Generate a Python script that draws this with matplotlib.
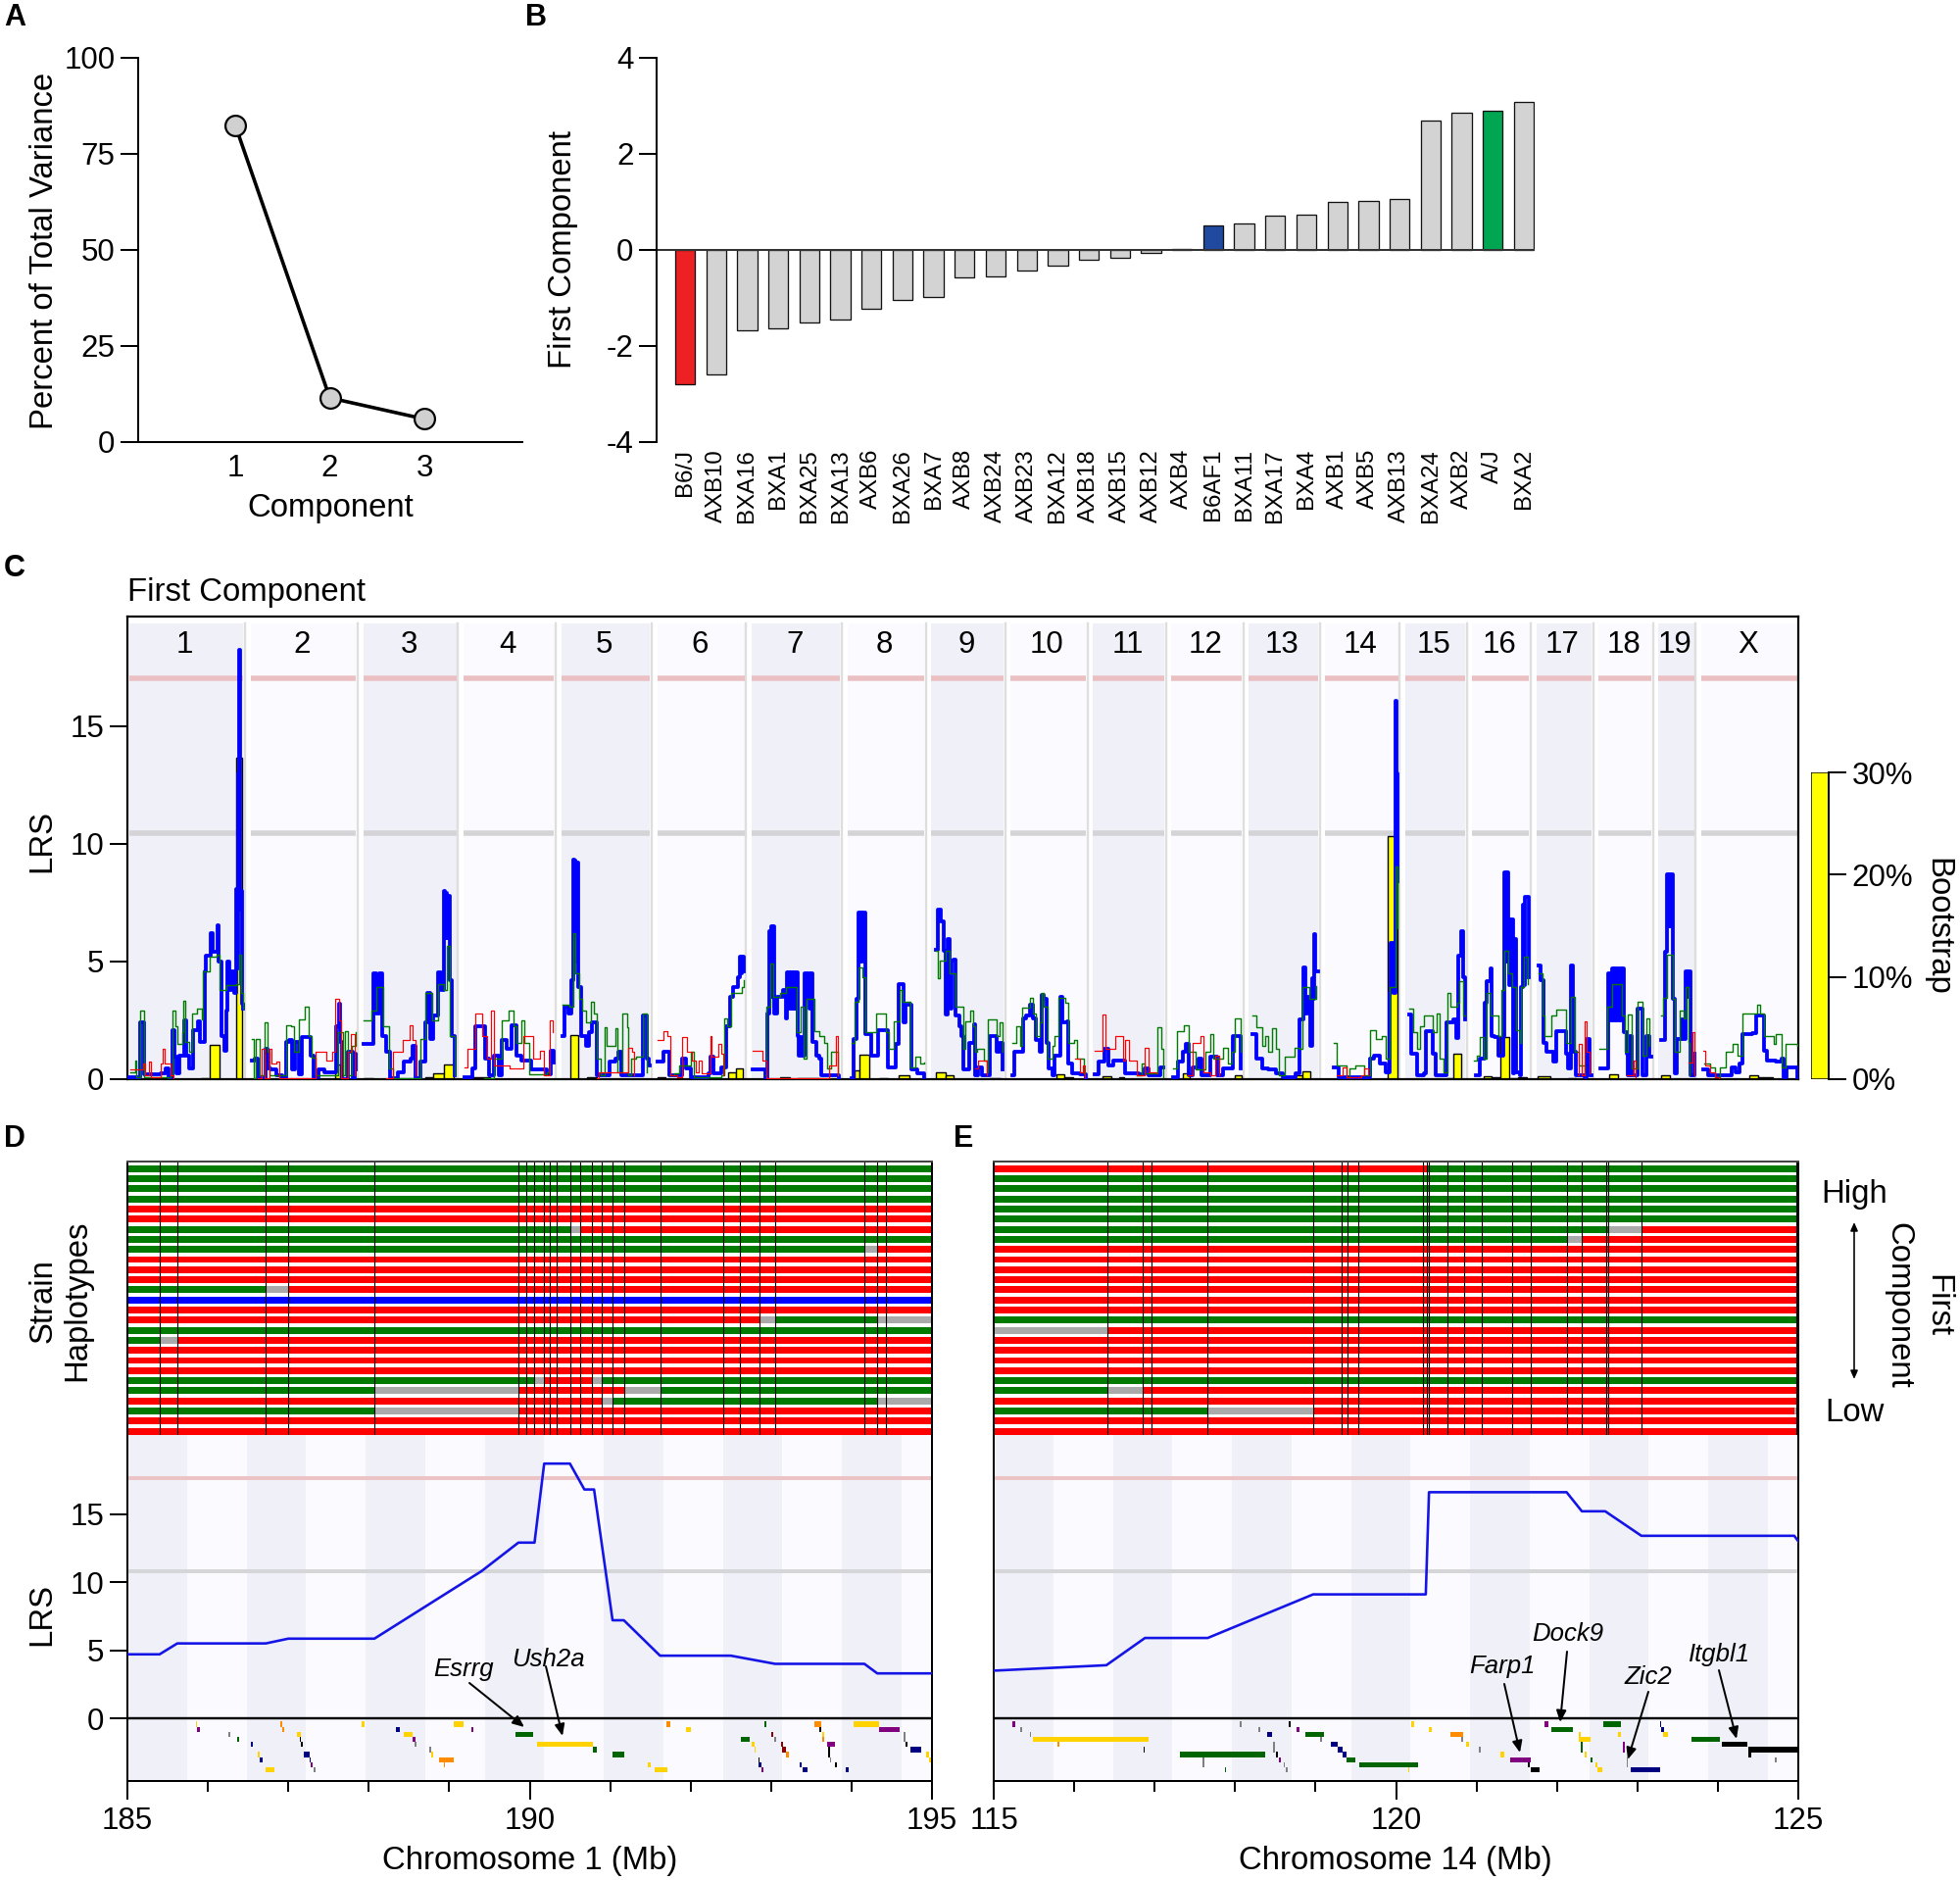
import matplotlib
matplotlib.use("Agg")
import matplotlib.pyplot as plt
import numpy as np

plt.rcParams['font.family'] = ['Liberation Sans', 'DejaVu Sans']
plt.rcParams['axes.unicode_minus'] = False

W, H = 2000, 1918
PX = 72 / 100  # one pixel in points at dpi 100

# panel A
components = [1, 2, 3]
variance = [82.5, 11.5, 6.0]

# panel B
strains = ['B6/J', 'AXB10', 'BXA16', 'BXA1', 'BXA25', 'BXA13', 'AXB6', 'BXA26', 'BXA7', 'AXB8',
           'AXB24', 'AXB23', 'BXA12', 'AXB18', 'AXB15', 'AXB12', 'AXB4', 'B6AF1', 'BXA11', 'BXA17',
           'BXA4', 'AXB1', 'AXB5', 'AXB13', 'BXA24', 'AXB2', 'A/J', 'BXA2']
first_comp = [-2.8, -2.6, -1.67, -1.63, -1.5, -1.45, -1.22, -1.05, -0.98, -0.58,
              -0.55, -0.42, -0.33, -0.2, -0.17, -0.07, 0.02, 0.52, 0.55, 0.72,
              0.74, 1.0, 1.03, 1.07, 2.7, 2.85, 2.9, 3.08]
strain_colors = {'B6/J': '#ed2024', 'B6AF1': '#1f4aa0', 'A/J': '#00a651'}

# panel C, chromosome names and lengths (Mb)
chr_names = ['1', '2', '3', '4', '5', '6', '7', '8', '9', '10', '11', '12', '13', '14', '15', '16', '17', '18', '19', 'X']
chr_len = [197, 182, 160, 156, 153, 150, 153, 132, 124, 130, 122, 121, 120, 125, 103, 98, 95, 91, 61, 166]
lrs_sig = 17.04
lrs_sug = 10.46

# (Mb, LRS) step points read per chromosome
blue_1 = [(0, .1), (10, .1), (19, 2.4), (26, .2), (55, .25), (63, .45), (69, .1), (75, 2.1), (78, .95), (82, .25), (86, 1.0), (95, 2.5), (99, 1.0), (103, .45), (110, 2.1), (118, 2.45), (122, 1.6), (130, 4.6), (133, 5.25), (141, 6.2), (144, 5.4), (152, 6.55), (155, 5.0), (159, 1.85), (165, 1.2), (168, 2.9), (170, 5.0), (173, 3.8), (177, 4.6), (181, 3.65), (185, 8.1), (186.5, 4.7), (187.5, 13), (189, 18.25), (191, 7.2), (192.5, 8), (194, 4.2), (195, 3.2), (196.9, 3.0)]
green_1 = [(2, .3), (10, .8), (13, .1), (20, 2.9), (26, .1), (72, .15), (75, 2.9), (80, 2.25), (83, 1.5), (92, 2.0), (93, 3.35), (97, 1.6), (103, 1.15), (108, 2.8), (117, 3.0), (125, 2.55), (128, 4.6), (139, 5.2), (151, 5.3), (156, 3.8), (168, 4.0), (184, 4.05), (189, 5.3), (193, 3.65), (196, 3.0)]
red_1 = [(2, .4), (16, .4), (24, .65), (28, .15), (35, .75), (38, .1), (52, .1), (55, .65), (58, 1.3), (61, .65), (69, .65), (72, .15), (76, .05)]

blue_2 = [(2, .8), (7, .87), (13, .04), (26, 1.3), (30, .45), (35, .4), (44, .18), (54, .05), (61, 1.6), (66, 1.65), (72, .4), (77, 1.6), (83, .2), (88, 1.8), (99, 1.8), (103, 1.0), (109, .1), (117, .4), (128, .3), (146, .3), (148, 2.25), (152, 3.2), (155, 1.6), (157, 0), (168, 1.15), (176, .05), (179, 1.1), (182, .4)]
green_2 = [(2, 1.7), (6, .05), (9, 1.7), (16, .15), (24, 2.4), (29, 1.15), (33, .15), (55, .15), (62, 2.3), (69, 2.25), (75, 1.15), (83, 2.55), (93, 3.1), (100, 1.85), (106, .9), (112, .15), (146, .15), (151, 2.0), (159, .15), (163, 2.05), (168, .15), (174, 1.4), (181, 2.0)]
red_2 = [(13, .05), (19, 1.3), (24, .05), (33, 1.3), (36, .65), (44, .75), (50, .05), (109, .05), (112, 1.15), (131, .8), (140, 1.15), (145, 3.4), (153, 2.5), (156, .05), (168, 1.15), (173, 1.9), (179, .15)]

blue_3 = [(0, 1.5), (14, 1.5), (17, 4.5), (22, 2.8), (28, 4.5), (33, 1.85), (39, 1.15), (46, .05), (59, .3), (70, .75), (82, .87), (84, 1.4), (90, .05), (98, .75), (107, 2.4), (110, 3.65), (115, 1.7), (121, 2.7), (129, 4.55), (134, 3.8), (139.5, 8.0), (141, 6), (142.5, 7.9), (144, 6), (146, 7.8), (149, 4.2), (152, 1.85), (158, .15)]
green_3 = [(0, 2.5), (14, 2.9), (22, 3.9), (34, 2.25), (45, .45), (51, .05), (90, .05), (98, 1.7), (107, 3.65), (118, 2.5), (129, 4.05), (138, 3.8), (143, 5.65), (149, 1.85), (158, .15)]
red_3 = [(39, .05), (51, 1.15), (68, 1.65), (79, 2.3), (84, 1.65), (90, .15)]

blue_4 = [(2, .1), (16, .45), (20, 2.25), (33, 2.25), (38, .87), (44, .15), (52, 1.0), (61, .15), (66, 1.65), (75, 1.3), (83, 2.3), (92, 1.0), (100, .8), (109, .8), (117, .4), (132, .4), (143, .2), (151, 1.2), (156, .7)]
green_4 = [(35, .05), (52, .87), (66, 2.5), (78, 2.9), (86, 2.25), (92, 1.55), (100, 2.5), (104, 1.55), (114, .2), (143, .3), (148, .7)]
red_4 = [(2, .5), (7, 1.3), (21, 2.8), (30, 2.8), (33, 1.85), (41, .87), (47, 2.9), (52, .6), (80, .45), (103, 1.85), (114, 1.85), (120, .87), (132, 1.2), (139, .15), (148, 2.5), (154, 2.0)]

blue_5 = [(2, 1.85), (6, 3.1), (12, 2.8), (17, 4.2), (20, 9.35), (22, 5), (23.5, 9.3), (25, 5), (26.5, 9.2), (28, 9.2), (29, 3.9), (34, 1.85), (42, 1.4), (48, 2.0), (53, 2.4), (62, .15), (84, .75), (93, .87), (98, 1.15), (104, .15), (132, .15), (141, 2.7), (147, .87), (150, .6), (153, .6)]
green_5 = [(2, 3.15), (8, 3.15), (14, 3.1), (20, 6.2), (25, 4.5), (31, 3.4), (36, 2.9), (42, 2.4), (51, 3.3), (56, 2.8), (62, .87), (68, .15), (74, 2.2), (79, 1.4), (93, 2.15), (97, .3), (106, 2.8), (114, 2.2), (115, .15), (121, .87), (129, .95), (141, 2.8), (147, 2.65), (148, .3)]
red_5 = [(62, .05), (65, .3), (115, 1.35), (122, 1.15), (125, .15)]

blue_6 = [(0, .75), (11, .75), (11.5, 1.15), (18, 1.15), (21, .15), (35, .15), (42, .87), (49, .45), (58, .1), (88, .25), (91, .95), (97, .25), (111, .5), (119, 2.25), (125, 3.5), (130, 3.9), (139, 4.35), (142, 5.2), (144, 4.5), (146, 5.2), (148, 5.2), (149.5, 4.6)]
green_6 = [(21, .15), (29, .25), (38, .6), (58, 1.15), (63, .1), (111, .15), (115, 2.6), (121, 2.25), (128, 3.65), (145, 3.9), (149, 4.2)]
red_6 = [(0, 1.65), (10, 2.05), (18, 1.85), (22, .15), (35, .1), (43, 1.8), (52, 1.15), (60, .8), (66, .3), (71, .8), (77, .25), (88, .25), (91, 1.85), (94, .95), (105, 1.5), (111, 1.1), (114, .15)]

blue_7 = [(2, .4), (22, .4), (24, 0), (27, 2.8), (30, 6.3), (32, 3.5), (34, 6.5), (36, 3.5), (38, 6.5), (39, 2.8), (44, 3.5), (55, 3.8), (60, 2.6), (61, 4.55), (63, 3), (65, 4.55), (67, 3), (69, 4.55), (71, 3), (73, 4.55), (75, 3), (78, 4.55), (79, 1.85), (82, 1.0), (85, 1.8), (88, 1.0), (90, 1.0), (91, 4.5), (93, 3.4), (97, 4.5), (100, 3), (103, 4.5), (105, 1.6), (111, 1.0), (117, .87), (120, .15), (135, .15), (150, .05)]
green_7 = [(24, .15), (26, 3.1), (33, 4.9), (37, 3.5), (49, 3.65), (60, 3.9), (72, 3.9), (78, 2.0), (84, 3.1), (89, .87), (95, 3.4), (103, 3.4), (108, 2.05), (117, 1.85), (126, 1.55), (131, .45), (137, 1.15), (148, .15)]
red_7 = [(2, 1.2), (16, 1.2), (19, .8), (24, .8), (26, .05), (117, .05), (133, .6), (145, 1.85), (148, .15)]

blue_8 = [(7, .05), (10, 1.7), (16, 3.4), (19, 7.1), (21, 5), (22.5, 7.1), (24, 5), (26, 7.1), (30, 4.9), (31, 1.9), (41, 1.0), (50, 1.0), (52, 2.1), (66, 2.1), (69, .5), (78, .5), (83, 1.5), (88, 4.05), (93, 4.05), (96, 2.4), (100, 3.15), (109, 3.15), (109.5, .4), (120, .25), (132, .1)]
green_8 = [(7, 1.55), (13, 3.3), (19, 4.75), (26, 4.35), (31, 2.0), (47, 2.0), (50, 2.8), (64, 2.8), (66, 2.0), (72, 1.3), (80, 2.45), (89, 3.8), (95, 3.3), (106, 3.3), (109, .5), (117, .95), (125, .65), (132, .7)]

blue_9 = [(8, 5.5), (12, 7.2), (17, 6.7), (22, 5.45), (25, 2.75), (28, 5.95), (31, 5.05), (33, 3), (35, 5.05), (39, 5.1), (42, 2.7), (48, 2.25), (52, 1.85), (55, .4), (62, .4), (65, 1.55), (73, 2.35), (76, .15), (81, .5), (87, .15), (101, 1.85), (110, 1.85), (113, 1.15), (118, 1.55), (123.5, .4)]
green_9 = [(8, 5.45), (11, 4.3), (14, 5.05), (25, 5.45), (31, 4.5), (42, 3.1), (48, 3.1), (56, 1.3), (59, 2.45), (67, 2.9), (72, 2.25), (76, 1.15), (79, 1.3), (90, .8), (95, .3), (98, 2.55), (107, 2.55), (112, 1.85), (118, 2.4), (123.5, 1.15)]
red_9 = [(76, .45), (81, .8), (92, .8), (95, .15)]

blue_10 = [(3, .15), (7, 1.15), (20, 1.15), (21, 2.6), (27, 2.7), (33, 3.15), (38, 2.6), (44, 1.65), (50, 1.15), (54, 3.6), (58, 3.4), (62, 1.55), (66, .45), (72, .15), (76, 1.0), (83, 1.0), (86, 3.5), (90, 2.4), (97, 2.45), (100, .65), (106, .25), (120, .2), (130, .05)]
green_10 = [(3, 1.55), (10, 2.25), (16, 1.4), (20, 3.05), (27, 3.05), (33, 3.45), (38, 2.8), (44, 1.85), (50, 2.4), (54, 3.65), (58, 3.1), (64, .87), (72, 1.4), (76, 1.85), (83, 3.45), (94, 3.25), (100, 1.55), (109, 1.65), (115, .87), (126, .25)]
red_10 = [(111, .87), (120, .3), (125, .6), (128, .1)]

blue_11 = [(2, .2), (10, .75), (16, .75), (20, 1.3), (27, .6), (35, .8), (49, .8), (55, .25), (78, .2), (89, .45), (95, .15), (111, .15), (115, .5), (120, .5)]
green_11 = [(75, .15), (83, .65), (89, .25), (109, .25), (111, 2.2), (117, 1.3), (120, .1)]
red_11 = [(2, 1.2), (10, 1.2), (16, 2.75), (21, 1.3), (33, 1.3), (38, 1.85), (47, 1.85), (52, .8), (55, 1.65), (61, .8), (69, .8), (75, .15), (89, 1.35), (95, .3), (109, .25)]

blue_12 = [(3, .1), (11, .75), (20, 1.15), (25, 1.5), (30, .15), (37, .5), (48, .87), (53, .15), (68, .95), (76, .95), (79, .15), (90, .45), (101, .45), (107, 1.85), (118, 1.85), (120, .45)]
green_12 = [(3, .45), (10, 2.05), (22, 2.3), (31, 1.15), (42, .4), (59, 1.15), (68, 1.9), (73, .87), (82, .87), (90, 1.35), (98, .65), (104, 1.15), (109, 2.6), (115, 2.6), (120, 1.15)]
red_12 = [(28, .15), (37, 1.55), (51, 1.85), (55, .3), (68, .15), (76, 1.0), (82, .15)]

blue_13 = [(6, 1.9), (14, .87), (23, .45), (34, .4), (48, .25), (59, .1), (81, .25), (88, 2.55), (94, 4.75), (97, 2.8), (102, 3.5), (107, 1.4), (109, 4.3), (111, 3.4), (113, 6.15), (115, 4.6), (120, 4.6)]
green_13 = [(6, 2.7), (13, 2.2), (23, 1.4), (28, 1.85), (34, 1.15), (41, 2.15), (47, 1.3), (53, .15), (62, .95), (79, 1.35), (87, 1.3), (92, 3.9), (104, 3.4), (116, 3.95)]

blue_14 = [(14, .5), (22, .1), (54, .1), (76, .87), (84, 1.0), (93, .65), (104, .3), (110, 3.65), (112, 5.8), (118, 3.65), (120.4, 16.1), (122.5, 16.1), (123.2, 13), (124.2, 8.4)]
green_14 = [(14, 1.55), (19, .6), (37, .1), (42, .45), (51, .6), (62, .6), (67, .15), (77, 2.1), (87, 1.7), (97, 1.85), (104, .87), (110, 3.9), (121, 9.05), (124, 6.4)]
red_14 = [(20, .15), (30, .5), (37, .1), (62, .15), (67, .45), (73, .15)]

blue_15 = [(7, 2.75), (11, 1.1), (20, .15), (33, .25), (35, 2.05), (43, 2.05), (47, 1.1), (52, .15), (71, 2.4), (83, 2.55), (88, 1.75), (92, 5.25), (96, 6.3), (99, 4.35), (103, 2.55)]
green_15 = [(7, 3.0), (13, 2.0), (21, 1.3), (25, 2.25), (33, 2.7), (40, 2.7), (47, 2.0), (55, 2.8), (60, .87), (66, .3), (73, 3.65), (78, 3.1), (89, 3.25), (93, 4.15), (99, 2.7), (103, 2.7)]

blue_16 = [(6, .15), (14, .87), (21, 3.25), (25, 4.15), (31, 4.7), (33, 1.85), (39, 1.8), (45, 1.0), (54, 1.85), (56, 8.8), (58, 5), (60, 8.8), (62, 6.8), (64, 4), (66, 6.8), (69, 6.8), (71, .25), (73, 5.95), (76, .3), (82, .15), (84, 3.9), (87, 7.4), (89, 4), (91, 7.75), (93, 7.75), (97, 4.35)]
green_16 = [(3, .8), (8, 1.0), (14, 1.8), (20, .87), (25, 3.65), (31, 2.7), (39, 2.7), (45, 1.85), (51, 3.8), (56, 5.45), (62, 4.5), (69, 3.9), (76, 2.1), (82, 1.55), (84, 3.9), (89, 5.2), (96, 4.05)]

blue_17 = [(4, 4.85), (8, 4.2), (12, 1.55), (18, 1.15), (26, 1.15), (29, .75), (35, 2.05), (46, 2.05), (52, 1.1), (55, .45), (60, 4.85), (63, 1.15), (69, .15), (83, .1), (87, 1.7), (91, .15), (95, .15)]
green_17 = [(4, 4.5), (11, 2.7), (15, 1.85), (26, 2.7), (35, 2.95), (43, 2.95), (52, 1.55), (59, 3.5), (66, 1.15), (74, .6), (83, .15)]
red_17 = [(71, .15), (74, 1.5), (78, .15), (83, 2.45), (87, 1.15), (91, .25)]

blue_18 = [(3, .45), (15, .45), (17, 4.5), (20, 2.5), (23, 4.7), (26, 2.5), (29, 4.7), (32, 2.5), (35, 4.7), (38, 2.5), (41, 4.7), (43, 4.7), (44, 2.0), (48, 1.1), (50, .15), (54, 1.85), (57, .15), (63, .15), (68, 3.0), (74, 3.0), (76, .15), (82, 1.85), (88, .95), (91, .95)]
green_18 = [(2, 1.3), (12, 1.3), (15, 3.1), (23, 4.05), (34, 4.05), (40, 2.7), (46, 1.15), (51, 2.75), (57, .45), (68, 3.3), (74, 3.3), (76, 1.0), (82, 2.6), (88, 1.4)]
red_18 = [(48, .15), (60, .8), (63, .1)]

blue_19 = [(4, 1.65), (11, 5.4), (14, 8.7), (16, 6.5), (18, 8.7), (20, 6.5), (23, 8.7), (25, 3.4), (28, .25), (31, 1.7), (39, 2.55), (43, 1.7), (47, 4.6), (49, 3.5), (52, 4.6), (55, .15), (61, 1.1)]
green_19 = [(4, 2.7), (8, 3.45), (14, 5.3), (20, 5.3), (24, 3.4), (28, 1.15), (36, 2.9), (43, 2.6), (47, 3.9), (51, 1.55), (54, .15)]
red_19 = [(51, .7), (59, 2.0), (61, .15)]

blue_X = [(4, .4), (12, .15), (46, .15), (52, .5), (60, .3), (66, .65), (71, 1.9), (88, 1.95), (94, 2.7), (102, 2.7), (109, 1.2), (113, .8), (128, .75), (139, .87), (142, .1), (147, .5), (158, .5), (166, .1)]
green_X = [(6, .65), (15, .5), (24, .1), (32, .5), (43, 1.15), (55, 1.5), (63, 1.0), (71, 2.8), (91, 2.8), (96, 3.15), (102, 2.8), (109, 1.85), (125, 1.5), (128, 1.9), (136, 1.9), (139, .5), (145, 1.5), (159, 1.5), (166, 1.4)]
red_X = [(4, 1.2), (7, .6), (15, .3), (24, .1), (30, .05)]

blue_tracks = [blue_1, blue_2, blue_3, blue_4, blue_5, blue_6, blue_7, blue_8, blue_9, blue_10,
               blue_11, blue_12, blue_13, blue_14, blue_15, blue_16, blue_17, blue_18, blue_19, blue_X]
green_tracks = [green_1, green_2, green_3, green_4, green_5, green_6, green_7, green_8, green_9, green_10,
                green_11, green_12, green_13, green_14, green_15, green_16, green_17, green_18, green_19, green_X]
red_tracks = {0: red_1, 1: red_2, 2: red_3, 3: red_4, 4: red_5, 5: red_6, 6: red_7, 8: red_9, 9: red_10,
              10: red_11, 11: red_12, 13: red_14, 16: red_17, 17: red_18, 18: red_19, 19: red_X}

# bootstrap bars: chromosome index, start Mb, end Mb, percent
boot_bars = [(0, 124, 138, .1), (0, 139.5, 156, 3.35), (0, 184.5, 194, 31.4), (1, 145, 154, 1.4),
             (2, 0, 17, .1), (2, 106, 121, .15), (2, 121, 138, .55), (2, 138, 155, 1.4),
             (3, 15, 30, .2), (3, 30, 45, .15), (4, 16, 30, 4.35), (4, 44, 61, .2),
             (5, 1, 14, .2), (5, 122, 136, .7), (5, 136, 148, 1.05), (6, 50, 66, .2), (6, 80, 117, .05),
             (7, 13, 20, .9), (7, 21, 37, 2.4), (7, 54, 69, .05), (7, 88, 106, .4),
             (8, 8, 24, .7), (8, 24, 39, .4), (8, 101, 120, .05),
             (9, 79, 93, .5), (9, 93, 108, .2), (10, 16, 31, .3), (10, 45, 53, .15),
             (11, 21, 32, .6), (11, 109, 121, .4), (12, 79, 92, .4), (12, 92, 107, .8),
             (13, 108, 124, 23.8), (14, 73, 83, .05), (14, 83, 97, 2.46),
             (15, 20, 33, .25), (15, 34, 48, .2), (15, 48, 63, 4.1), (15, 65, 79, .05), (15, 79, 94, .2),
             (16, 3, 24, .3), (16, 55, 69, .05), (17, 19, 33, .5), (18, 4, 20, .4),
             (19, 83, 98, .4), (19, 98, 124, .2)]
boot_ticks = [0, 10, 20, 30]

# panels D and E: markers where a haplotype can switch
d_markers = [185.397, 185.62, 186.72, 187.0, 188.07, 189.86, 189.96, 190.06, 190.18, 190.25, 190.34, 190.50, 190.63,
             190.77, 190.90, 191.03, 191.17, 191.62, 192.41, 192.61, 192.86, 193.05, 194.16, 194.32, 194.43]
e_markers = [116.41, 116.85, 116.96, 117.66, 118.97, 119.32, 119.40, 119.53, 120.34, 120.38, 120.41, 120.64, 120.85,
             121.07, 121.44, 121.67, 122.12, 122.31, 122.61, 122.64, 123.05, 124.98]

# haplotype rows from the top: list of (end Mb, state), each starts where the last one ended
G, R, B, N = '#007a00', '#ff0000', '#0000ff', '#aaaaaa'
d_rows = [[(195, G)], [(195, G)], [(195, G)], [(195, G)], [(195, R)], [(195, R)],
          [(190.50, G), (190.63, N), (195, R)], [(195, G)], [(194.16, G), (194.32, N), (195, R)],
          [(195, R)], [(195, R)], [(195, R)], [(186.72, G), (187.0, N), (195, R)], [(195, B)], [(195, R)],
          [(192.86, R), (193.05, N), (194.32, G), (195, N)], [(195, G)],
          [(185.397, G), (185.62, N), (195, R)], [(195, R)], [(195, R)], [(195, R)],
          [(190.06, G), (190.18, N), (190.77, R), (190.90, N), (195, G)],
          [(188.07, G), (189.86, N), (191.17, R), (191.62, N), (195, G)],
          [(190.90, R), (191.03, N), (194.32, G), (195, N)],
          [(188.07, G), (189.86, N), (195, R)], [(195, R)], [(195, R)]]
e_rows = [[(120.38, R), (125, G)], [(125, G)], [(125, G)], [(125, G)], [(125, G)], [(125, G)],
          [(122.64, G), (123.05, N), (125, R)], [(122.12, G), (122.31, N), (125, R)],
          [(125, R)], [(125, R)], [(125, R)], [(125, R)], [(125, R)], [(125, R)], [(125, R)], [(125, G)],
          [(116.41, N), (125, R)], [(125, R)], [(125, R)], [(125, R)], [(125, R)], [(125, G)],
          [(116.41, G), (116.85, N), (125, R)], [(125, R)],
          [(117.66, G), (118.97, N), (124.95, R), (125, N)], [(125, R)], [(125, R)]]

d_lrs_x = [185, 185.4, 185.62, 186.72, 187.0, 188.07, 189.4, 189.86, 190.06, 190.18, 190.50, 190.68, 190.8, 191.03, 191.17, 191.62, 192.5, 193.05, 194.16, 194.32, 195]
d_lrs_y = [4.7, 4.7, 5.5, 5.5, 5.85, 5.85, 10.8, 12.9, 12.9, 18.7, 18.7, 16.8, 16.8, 7.2, 7.2, 4.6, 4.6, 4.0, 4.0, 3.3, 3.3]
e_lrs_x = [115, 116.4, 116.88, 117.66, 118.97, 120.37, 120.41, 122.12, 122.31, 122.6, 123.05, 124.95, 125]
e_lrs_y = [3.5, 3.9, 5.9, 5.9, 9.1, 9.1, 16.6, 16.6, 15.2, 15.2, 13.4, 13.4, 13.0]
d_sig, d_sug = 17.6, 10.8

# genes: start Mb, end Mb, lane, colour key
d_genes = [(185.85, 185.87, 0, 'y'), (185.87, 185.90, 1, 'p'), (186.26, 186.28, 2, 'a'), (186.36, 186.39, 3, 'g'),
           (186.54, 186.56, 4, 'n'), (186.62, 186.64, 6, 'y'), (186.64, 186.68, 7, 'n'), (186.70, 186.71, 8, 'n'),
           (186.72, 186.83, 9, 'y'), (186.90, 186.92, 0, 'o'), (186.93, 186.95, 1, 'o'), (187.11, 187.16, 2, 'y'),
           (187.14, 187.16, 3, 'k'), (187.16, 187.18, 4, 'k'), (187.19, 187.26, 6, 'n'), (187.26, 187.28, 7, 'n'),
           (187.28, 187.30, 8, 'p'), (187.32, 187.34, 9, 'a'), (187.91, 187.95, 0, 'y'), (188.34, 188.39, 1, 'n'),
           (188.44, 188.54, 2, 'y'), (188.55, 188.58, 3, 'p'), (188.57, 188.59, 4, 'a'), (188.75, 188.77, 5, 'a'),
           (188.78, 188.80, 6, 'y'), (188.87, 189.05, 7, 'o'), (188.93, 188.95, 8, 'o'), (189.05, 189.18, 0, 'y'),
           (189.27, 189.30, 1, 'p'), (189.82, 190.04, 2, 'g'), (190.09, 190.79, 4, 'y'), (190.79, 190.84, 5, 'g'),
           (191.03, 191.17, 6, 'g'), (191.47, 191.51, 8, 'y'), (191.55, 191.71, 9, 'y'), (191.70, 191.75, 0, 'o'),
           (191.94, 192.0, 1, 'y'), (192.23, 192.24, 2, 'n'), (192.62, 192.74, 3, 'g'), (192.76, 192.79, 4, 'y'),
           (192.79, 192.81, 5, 'y'), (192.84, 192.86, 7, 'k'), (192.85, 192.88, 8, 'n'), (192.88, 192.90, 9, 'p'),
           (192.92, 192.94, 0, 'g'), (193.0, 193.03, 2, 'r'), (193.04, 193.06, 3, 'a'), (193.13, 193.15, 4, 'r'),
           (193.14, 193.18, 5, 'r'), (193.18, 193.22, 6, 'o'), (193.36, 193.38, 8, 'n'), (193.39, 193.45, 9, 'n'),
           (193.54, 193.62, 0, 'o'), (193.60, 193.62, 1, 'k'), (193.64, 193.66, 2, 'y'), (193.64, 193.66, 3, 'o'),
           (193.70, 193.80, 4, 'p'), (193.71, 193.73, 5, 'k'), (193.71, 193.73, 6, 'k'), (193.73, 193.75, 7, 'a'),
           (193.80, 193.82, 8, 'k'), (193.93, 193.96, 9, 'n'), (194.02, 194.34, 0, 'y'), (194.34, 194.60, 1, 'p'),
           (194.65, 194.67, 2, 'a'), (194.65, 194.67, 3, 'a'), (194.67, 194.69, 4, 'k'), (194.73, 194.86, 5, 'n'),
           (194.93, 194.96, 6, 'y'), (194.96, 194.99, 7, 'y')]
e_genes = [(115.23, 115.27, 0, 'p'), (115.33, 115.35, 1, 'a'), (115.45, 115.46, 2, 'a'), (115.49, 116.93, 3, 'y'),
           (115.79, 115.82, 4, 'o'), (116.86, 116.88, 5, 'k'), (117.32, 118.38, 6, 'g'), (117.60, 117.62, 7, 'a'),
           (117.60, 117.62, 8, 'a'), (117.87, 117.89, 9, 'g'), (118.06, 118.08, 0, 'a'), (118.29, 118.31, 1, 'a'),
           (118.40, 118.46, 2, 'n'), (118.47, 118.49, 4, 'a'), (118.47, 118.49, 5, 'a'), (118.51, 118.53, 6, 'k'),
           (118.54, 118.57, 7, 'p'), (118.60, 118.62, 8, 'a'), (118.63, 118.65, 9, 'a'), (118.67, 118.69, 0, 'k'),
           (118.76, 118.80, 1, 'p'), (118.87, 119.11, 2, 'g'), (119.06, 119.08, 3, 'a'), (119.19, 119.27, 4, 'n'),
           (119.27, 119.34, 5, 'n'), (119.34, 119.39, 6, 'n'), (119.39, 119.50, 7, 'g'), (119.54, 120.27, 8, 'g'),
           (120.15, 120.17, 9, 'y'), (120.19, 120.22, 0, 'y'), (120.41, 120.44, 1, 'y'), (120.67, 120.83, 2, 'o'),
           (120.81, 120.83, 3, 'a'), (120.87, 120.91, 4, 'y'), (121.03, 121.05, 5, 'a'), (121.30, 121.35, 6, 'y'),
           (121.42, 121.68, 7, 'p'), (121.64, 121.66, 8, 'k'), (121.68, 121.78, 9, 'k'), (121.85, 121.90, 0, 'p'),
           (121.93, 122.20, 1, 'g'), (122.27, 122.29, 2, 'y'), (122.27, 122.42, 3, 'y'), (122.30, 122.32, 4, 'g'),
           (122.30, 122.32, 5, 'g'), (122.35, 122.37, 6, 'y'), (122.42, 122.44, 7, 'g'), (122.48, 122.50, 8, 'y'),
           (122.50, 122.56, 9, 'y'), (122.58, 122.80, 0, 'g'), (122.76, 122.79, 2, 'y'), (122.82, 122.85, 4, 'p'),
           (122.82, 122.85, 5, 'p'), (122.87, 122.88, 7, 'a'), (122.87, 122.88, 8, 'a'), (122.92, 123.28, 9, 'n'),
           (123.28, 123.30, 0, 'n'), (123.30, 123.33, 1, 'n'), (123.32, 123.38, 2, 'y'), (123.67, 124.03, 3, 'g'),
           (124.05, 124.37, 4, 'k'), (124.38, 125.0, 5, 'k'), (124.38, 124.42, 6, 'k'), (124.71, 124.73, 7, 'a')]
gene_colors = {'y': '#ffd200', 'p': '#800080', 'a': '#808080', 'g': '#006400', 'n': '#000080',
               'o': '#ff8c00', 'k': '#000000', 'r': '#8b0000'}


def ax_px(l, t, r, b):
    return fig.add_axes([l / W, 1 - b / H, (r - l) / W, (b - t) / H])


def fxy(x, y):
    return x / W, 1 - y / H


def txt(x, y, s, **kw):
    kw.setdefault('ha', 'center')
    kw.setdefault('va', 'center')
    kw.setdefault('fontsize', 23.7)
    fig.text(*fxy(x, y), s, **kw)


fig = plt.figure(figsize=(W / 100, H / 100), dpi=100, facecolor='white')
tick_kw = dict(length=18 * PX, width=2 * PX, labelsize=22.5, pad=4)

# ---- A
ax = ax_px(141, 59, 533, 451)
ax.plot(components, variance, color='black', lw=3.6 * PX, marker='o', ms=15, mfc='#d0d0d0', mec='black',
        mew=2.2 * PX, clip_on=False, zorder=3)
ax.set_xlim(-0.026, 4.036)
ax.set_ylim(0, 100)
ax.spines[['top', 'right']].set_visible(False)
ax.spines[['left', 'bottom']].set_linewidth(2 * PX)
ax.set_yticks([0, 25, 50, 75, 100])
ax.set_xticks(components)
ax.tick_params(axis='y', **tick_kw)
ax.tick_params(axis='x', length=0, labelsize=22.5, pad=9)
txt(46, 256, 'Percent of Total Variance', rotation=90)
txt(337, 518, 'Component')

# ---- B
ax = ax_px(670, 59, 1566, 451)
xpos = np.arange(len(strains))
bar_cols = [strain_colors.get(s, '#d3d3d3') for s in strains]
ax.bar(xpos, first_comp, width=0.64, color=bar_cols, edgecolor='#111111', linewidth=1.3 * PX)
ax.axhline(0, color='#333333', lw=2 * PX)
ax.set_xlim(-0.915, 27.35)
ax.set_ylim(-4, 4)
ax.spines[['top', 'right', 'bottom']].set_visible(False)
ax.spines['left'].set_linewidth(2 * PX)
ax.set_yticks([-4, -2, 0, 2, 4])
ax.tick_params(axis='y', **tick_kw)
ax.set_xticks(xpos)
ax.set_xticklabels(strains, rotation=90, ha='center', va='top', fontsize=17.3)
ax.tick_params(axis='x', length=0, pad=5)
txt(574, 254, 'First Component', rotation=90)

# ---- C
ax = ax_px(130, 629, 1835, 1101)
ax.set_ylim(0, 472 / 24)
GAP = 12.35
offsets = np.cumsum([0] + [n + GAP for n in chr_len[:-1]]) + 2.7
ax.set_xlim(0, 1705 / 0.5925)
pct_to_lrs = 10.43 / 24
for i, (name, n, off) in enumerate(zip(chr_names, chr_len, offsets)):
    band = '#eff0f8' if i % 2 == 0 else '#fafaff'
    ax.axvspan(off, off + n, ymin=0, ymax=0.985, color=band, lw=0, zorder=0)
    if i < len(chr_len) - 1:
        ax.axvline(off + n + 3, ymax=0.985, color='#dedede', lw=2.4 * PX, zorder=1)
    ax.plot([off, off + n], [lrs_sig, lrs_sig], color='#ebc0c3', lw=5.5 * PX, solid_capstyle='butt', zorder=1)
    ax.plot([off, off + n], [lrs_sug, lrs_sug], color='#d4d4d6', lw=5.5 * PX, solid_capstyle='butt', zorder=1)
    ax.text(off + n / 2 - 2, 18.47, name, ha='center', va='center', fontsize=22.5)
for c, s, e, p in boot_bars:
    ax.bar(offsets[c] + s, p * pct_to_lrs, width=e - s, align='edge', color='#ffff00', edgecolor='black',
           linewidth=1.4 * PX, zorder=2)
for i, tr in enumerate(blue_tracks):
    xs, ys = zip(*tr)
    ax.plot(np.array(xs) + offsets[i], ys, color='#0000ff', lw=3.8 * PX, drawstyle='steps-post', zorder=3)
for i, tr in enumerate(green_tracks):
    xs, ys = zip(*tr)
    ax.plot(np.array(xs) + offsets[i], ys, color='#007a00', lw=1.4 * PX, drawstyle='steps-post', zorder=4)
for i, tr in red_tracks.items():
    xs, ys = zip(*tr)
    ax.plot(np.array(xs) + offsets[i], ys, color='#ff0000', lw=1.2 * PX, drawstyle='steps-post', zorder=5)
ax.set_xticks([])
ax.set_yticks([0, 5, 10, 15])
ax.tick_params(axis='y', **tick_kw)
for sp in ax.spines.values():
    sp.set_linewidth(2.2 * PX)
txt(130, 604, 'First Component', ha='left')
txt(43, 858, 'LRS', rotation=90)

# bootstrap scale
ax = ax_px(1848, 788, 1866, 1101)
ax.bar([0], [boot_ticks[-1]], width=1, color='#ffff00', edgecolor='black', linewidth=1.5 * PX, align='edge')
ax.set_xlim(0, 1)
ax.set_ylim(0, 30)
ax.spines[['top', 'left', 'bottom']].set_visible(False)
ax.spines['right'].set_linewidth(2 * PX)
ax.yaxis.tick_right()
ax.set_xticks([])
ax.set_yticks(boot_ticks)
ax.set_yticklabels([f'{t}%' for t in boot_ticks])
ax.tick_params(axis='y', **tick_kw)
txt(1977, 945, 'Bootstrap', rotation=270)


# ---- D and E
def haplo_panel(l, r, x0, rows, markers):
    ax = ax_px(l, 1185, r, 1464)
    for i, row in enumerate(rows):
        start = x0
        for end, col in row:
            ax.barh(i, end - start, left=start, height=0.67, color=col, lw=0, zorder=1)
            start = end
    ax.vlines(markers, -1, 27, color='black', lw=1.1 * PX, zorder=2)
    ax.set_xlim(x0, x0 + 10)
    ax.set_ylim(26.38, -0.71)
    ax.set_xticks([])
    ax.set_yticks([])
    ax.spines['bottom'].set_visible(False)
    for sp in ax.spines.values():
        sp.set_linewidth(2 * PX)
    ax.spines['top'].set_color('#444444')


def lrs_panel(l, r, x0, xs, ys, genes):
    ax = ax_px(l, 1464, r, 1817)
    ax.set_xlim(x0, x0 + 10)
    ax.set_ylim(-4.6, 20.8)
    edges = np.append(np.arange(x0, x0 + 10, 0.74), x0 + 10)
    for k in range(len(edges) - 1):
        ax.axvspan(edges[k], edges[k + 1], color='#eff0f8' if k % 2 == 0 else '#fafaff', lw=0, zorder=0)
    ax.axhline(d_sig, color='#ecc4c6', lw=4 * PX, zorder=1)
    ax.axhline(d_sug, color='#d6d6d8', lw=4 * PX, zorder=1)
    ax.plot(xs, ys, color='#1414e6', lw=2.6 * PX, zorder=3)
    ax.axhline(0, color='black', lw=2.4 * PX, zorder=4)
    for s, e, lane, c in genes:
        ax.barh(-0.43 - 0.372 * lane, e - s, left=s, height=0.38, color=gene_colors[c], lw=0, zorder=2)
    ax.spines['top'].set_visible(False)
    for sp in ax.spines.values():
        sp.set_linewidth(2 * PX)
    ax.set_xticks([x0, x0 + 5, x0 + 10])
    ax.set_xticks(np.arange(x0, x0 + 11), minor=True)
    ax.tick_params(axis='x', which='major', length=19 * PX, width=2 * PX, labelsize=22.5, pad=5)
    ax.tick_params(axis='x', which='minor', length=11 * PX, width=2 * PX)
    return ax


haplo_panel(130, 951, 185, d_rows, d_markers)
ax_d = lrs_panel(130, 951, 185, d_lrs_x, d_lrs_y, d_genes)
ax_d.set_yticks([0, 5, 10, 15])
ax_d.tick_params(axis='y', **tick_kw)

haplo_panel(1014, 1835, 115, e_rows, e_markers)
ax_e = lrs_panel(1014, 1835, 115, e_lrs_x, e_lrs_y, e_genes)
ax_e.set_yticks([])

txt(541, 1898, 'Chromosome 1 (Mb)')
txt(1424, 1898, 'Chromosome 14 (Mb)')
txt(43, 1647, 'LRS', rotation=90)
txt(61, 1327, 'Strain\nHaplotypes', rotation=90, linespacing=1.15)

# gene name callouts, figure pixel positions
callouts = [('Esrrg', 473, 1703, 479, 1717, 535, 1762), ('Ush2a', 559, 1693, 557, 1700, 574, 1771),
            ('Farp1', 1533, 1700, 1535, 1718, 1551, 1788), ('Dock9', 1600, 1667, 1599, 1685, 1592, 1757),
            ('Zic2', 1682, 1711, 1682, 1726, 1661, 1795), ('Itgbl1', 1755, 1688, 1754, 1704, 1772, 1774)]
for name, tx, ty, x1, y1, x2, y2 in callouts:
    txt(tx, ty, name, style='italic', fontsize=18.5)
    fig.add_artist(plt.Annotation('', xy=fxy(x2, y2), xytext=fxy(x1, y1), xycoords='figure fraction',
                                  textcoords='figure fraction',
                                  arrowprops=dict(arrowstyle='-|>,head_length=0.7,head_width=0.3', color='black',
                                                  lw=2 * PX, shrinkA=0, shrinkB=0)))

txt(1892, 1219, 'High')
txt(1892, 1441, 'Low')
fig.add_artist(plt.Annotation('', xy=fxy(1892, 1247), xytext=fxy(1892, 1407), xycoords='figure fraction',
                              textcoords='figure fraction',
                              arrowprops=dict(arrowstyle='<|-|>,head_length=0.5,head_width=0.22', color='black',
                                              lw=1.6 * PX, shrinkA=0, shrinkB=0)))
txt(1977, 1332, 'First', rotation=270)
txt(1937, 1332, 'Component', rotation=270)

# panel letters
for letter, x, y in [('A', 4, 18), ('B', 536, 18), ('C', 4, 580), ('D', 4, 1162), ('E', 973, 1162)]:
    txt(x, y, letter, ha='left', fontweight='bold', fontsize=22)

fig.savefig('out.png', dpi=100)
